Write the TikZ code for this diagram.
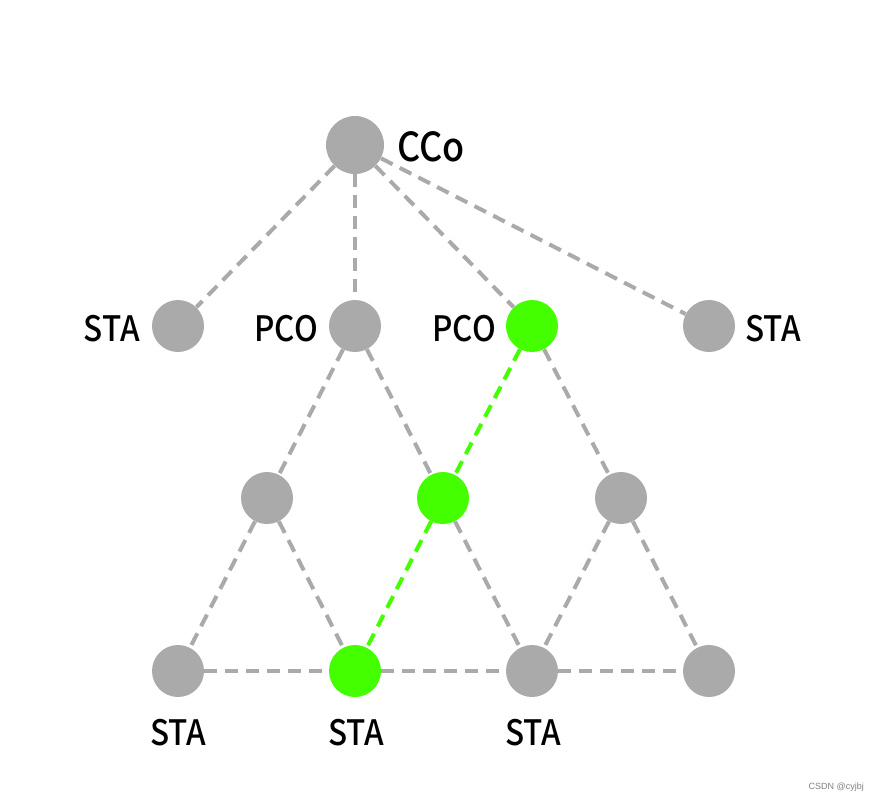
\documentclass[tikz,border=0pt]{standalone}
\usepackage{fontspec}
\newfontfamily\lblfont[FakeStretch=0.9]{Noto Sans CJK SC Medium}
\setmainfont{Liberation Sans}
\definecolor{ngray}{HTML}{AAAAAA}
\definecolor{ngreen}{HTML}{44FF00}
\begin{document}
\begin{tikzpicture}[x=1pt,y=-1pt,
  gnode/.style={circle,fill=ngray,minimum size=52pt,inner sep=0pt},
  gbig/.style={circle,fill=ngray,minimum size=58pt,inner sep=0pt},
  grnode/.style={circle,fill=ngreen,minimum size=52pt,inner sep=0pt},
  link/.style={draw=ngray,line width=4pt,dash pattern=on 13pt off 8pt},
  glink/.style={draw=ngreen,line width=4pt,dash pattern=on 13pt off 8pt},
  lbl/.style={font=\lblfont\fontsize{35}{35}\selectfont,inner sep=0pt},
  biglbl/.style={font=\lblfont\fontsize{40}{40}\selectfont,inner sep=0pt}]
\useasboundingbox (0,0) rectangle (875,803);
% nodes
\node[gbig] (cco) at (355,145) {};
\node[gnode] (s1) at (178,326) {};
\node[gnode] (p1) at (355,326) {};
\node[grnode] (p2) at (532,326) {};
\node[gnode] (s2) at (709,326) {};
\node[gnode] (m1) at (267,498) {};
\node[grnode] (m2) at (443,498) {};
\node[gnode] (m3) at (621,498) {};
\node[gnode] (b1) at (178,671) {};
\node[grnode] (b2) at (355,671) {};
\node[gnode] (b3) at (532,671) {};
\node[gnode] (b4) at (709,671) {};
% edges
\draw[link] (cco) -- (s1);
\draw[link] (cco) -- (p1);
\draw[link] (cco) -- (p2);
\draw[link] (cco) -- (s2);
\draw[link] (p1) -- (m1);
\draw[link] (p1) -- (m2);
\draw[link] (p2) -- (m3);
\draw[glink] (p2) -- (m2);
\draw[link] (m1) -- (b1);
\draw[link] (m1) -- (b2);
\draw[glink] (m2) -- (b2);
\draw[link] (m2) -- (b3);
\draw[link] (m3) -- (b3);
\draw[link] (m3) -- (b4);
\draw[link] (b1) -- (b2);
\draw[link] (b2) -- (b3);
\draw[link] (b3) -- (b4);
% labels
\node[biglbl,anchor=west] (tcco) at (397,147) {CCo};
\node[lbl,anchor=east] (ts1) at (140,329) {STA};
\node[lbl,anchor=east] (tp1) at (318,329) {PCO};
\node[lbl,anchor=east] (tp2) at (496,329) {PCO};
\node[lbl,anchor=west] (ts2) at (745,329) {STA};
\node[lbl] (tb1) at (178,733) {STA};
\node[lbl] (tb2) at (356,733) {STA};
\node[lbl] (tb3) at (533,733) {STA};
\node[font=\fontsize{9}{9}\selectfont,text=gray,anchor=east,inner sep=0pt] (wm) at (864,787) {CSDN @cyjbj};
\end{tikzpicture}
\end{document}
